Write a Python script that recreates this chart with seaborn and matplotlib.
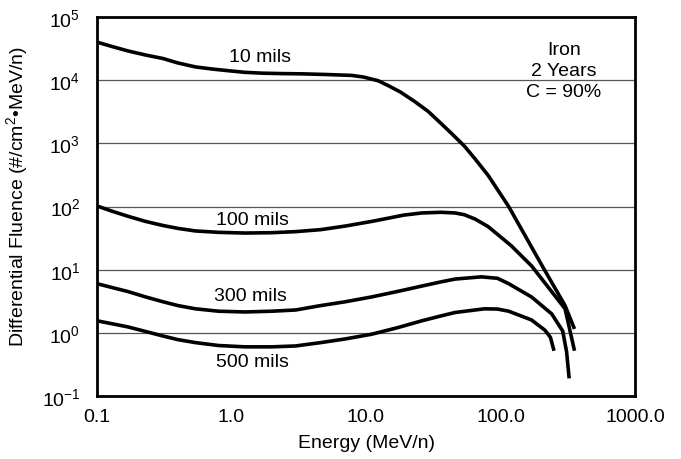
import numpy as np
import pandas as pd
import matplotlib
matplotlib.use("Agg")
import matplotlib.pyplot as plt
import seaborn as sns

# Values (energy in MeV/n, fluence in #/cm2 MeV/n)
e_10 = [0.1, 0.13, 0.17, 0.23, 0.31, 0.40, 0.54, 0.72, 0.95, 1.26, 1.7, 2.4, 3.3, 5.0, 7.8, 9.6,
        12.3, 14.8, 18, 23, 29, 35, 43, 54, 65, 81, 115, 204, 302, 355]
f_10 = [4.0e4, 3.4e4, 2.9e4, 2.5e4, 2.2e4, 1.87e4, 1.62e4, 1.5e4, 1.41e4, 1.33e4, 1.29e4, 1.27e4,
        1.26e4, 1.23e4, 1.19e4, 1.12e4, 9.8e3, 8.1e3, 6.5e3, 4.6e3, 3.2e3, 2.2e3, 1.45e3, 900,
        560, 310, 100, 11.5, 2.7, 1.15]

e_100 = [0.1, 0.13, 0.17, 0.23, 0.31, 0.40, 0.54, 0.8, 1.26, 2.0, 3.0, 4.6, 7.0, 11, 15, 19, 26,
         36, 46, 54, 65, 81, 120, 170, 240, 302, 355]
f_100 = [102, 84, 70, 58, 50, 45, 41, 39, 38, 38.5, 40, 43, 49, 58, 66, 73, 79, 81, 79, 74, 63, 48,
         24, 11.5, 4.5, 2.4, 0.52]

e_300 = [0.1, 0.13, 0.17, 0.23, 0.31, 0.40, 0.54, 0.8, 1.26, 2.0, 3.0, 4.6, 7.0, 11, 17, 26, 36,
         46, 72, 95, 115, 170, 240, 290, 310, 324]
f_300 = [6.0, 5.2, 4.5, 3.7, 3.1, 2.7, 2.4, 2.2, 2.14, 2.2, 2.3, 2.7, 3.1, 3.7, 4.5, 5.5, 6.4,
         7.1, 7.7, 7.3, 6.0, 3.7, 2.0, 1.07, 0.5, 0.19]

e_500 = [0.1, 0.13, 0.17, 0.23, 0.31, 0.40, 0.54, 0.8, 1.26, 2.0, 3.0, 4.6, 7.0, 11, 17, 26, 36,
         46, 76, 95, 115, 170, 214, 235, 250]
f_500 = [1.55, 1.39, 1.24, 1.05, 0.89, 0.78, 0.70, 0.63, 0.60, 0.60, 0.62, 0.70, 0.80, 0.95, 1.2,
         1.55, 1.85, 2.1, 2.4, 2.38, 2.2, 1.6, 1.1, 0.85, 0.52]

labels = ["10 mils", "100 mils", "300 mils", "500 mils"]
label_pos = [(1.62, 2.4e4), (1.44, 63), (1.38, 3.85), (1.44, 0.35)]

xticks = [0.1, 1, 10, 100, 1000]
xtick_labels = ["0.1", "1.0", "10.0", "100.0", "1000.0"]
yticks = [1e-1, 1e0, 1e1, 1e2, 1e3, 1e4, 1e5]
ytick_labels = [r"$10^{-1}$", r"$10^{0}$", r"$10^{1}$", r"$10^{2}$", r"$10^{3}$", r"$10^{4}$", r"$10^{5}$"]

sns.set_style("white")
plt.rcParams["font.family"] = ["Liberation Sans", "DejaVu Sans"]
plt.rcParams["mathtext.fontset"] = "custom"
plt.rcParams["mathtext.rm"] = "Liberation Sans"
plt.rcParams["mathtext.it"] = "Liberation Sans"
plt.rcParams["mathtext.default"] = "regular"
plt.rcParams["font.size"] = 14

frames = []
for name, e, f in zip(labels, [e_10, e_100, e_300, e_500], [f_10, f_100, f_300, f_500]):
    frames.append(pd.DataFrame({"energy": e, "fluence": f, "thickness": name}))
df = pd.concat(frames, ignore_index=True)

fig = plt.figure(figsize=(6.81, 4.60), dpi=100)
ax = fig.add_axes([97 / 681, 1 - 397 / 460, (635 - 97) / 681, (397 - 18) / 460])

sns.lineplot(data=df, x="energy", y="fluence", hue="thickness", units="thickness",
             estimator=None, palette=["black"] * 4, legend=False, linewidth=2.6, ax=ax)
for line in ax.get_lines():
    line.set_solid_joinstyle("round")
    line.set_solid_capstyle("butt")

ax.set_xscale("log")
ax.set_yscale("log")
ax.set_xlim(0.1, 1000)
ax.set_ylim(0.1, 1e5)

ax.set_xticks(xticks)
ax.set_xticklabels(xtick_labels)
ax.set_yticks(yticks)
ax.set_yticklabels(ytick_labels)

ax.yaxis.grid(True, which="major", color="#555555", linewidth=0.9)
ax.xaxis.grid(False)

ax.tick_params(axis="both", which="major", direction="in", length=7, width=1.2,
               top=False, right=False, labelsize=14, labelcolor="black")
ax.tick_params(axis="both", which="minor", direction="in", length=3.5, width=1.0,
               top=False, right=False)
ax.tick_params(axis="y", which="major", pad=12)
ax.tick_params(axis="x", which="major", pad=9)

for s in ax.spines.values():
    s.set_linewidth(2.0)
    s.set_color("black")

ax.set_xlabel("Energy (MeV/n)", fontsize=14, labelpad=6, color="black")
ax.set_ylabel("Differential Fluence (#/cm$^2$\u2022MeV/n)", fontsize=14, color="black")
ax.yaxis.set_label_coords(-0.125, 0.528)

for txt, (x, y) in zip(labels, label_pos):
    ax.text(x, y, txt, fontsize=14, ha="center", va="center", color="black")

ax.text(295, 10 ** 4.15, "Iron\n2 Years\nC = 90%", fontsize=14, ha="center", va="center",
        linespacing=1.3, color="black")

fig.savefig("out.png", dpi=100)
